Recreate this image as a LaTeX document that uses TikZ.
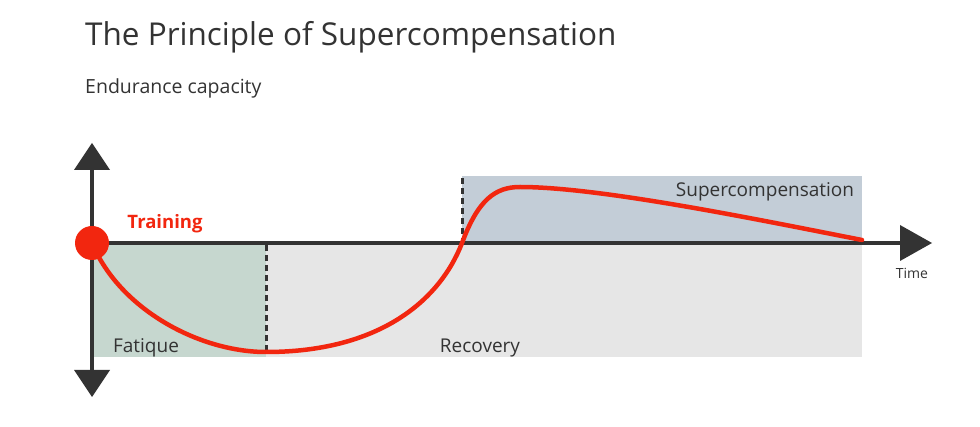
\documentclass[tikz,border=0pt]{standalone}
\usepackage{fontspec}
\setmainfont{Open Sans}
\definecolor{redc}{HTML}{F2260F}
\definecolor{fatc}{HTML}{C6D7CF}
\definecolor{recc}{HTML}{E6E6E6}
\definecolor{supc}{HTML}{C3CDD7}
\definecolor{axc}{HTML}{333333}
\begin{document}
\begin{tikzpicture}[x=1pt,y=-1pt,
  lbl/.style={text=axc,font=\fontsize{19}{22}\selectfont},
  dashln/.style={axc,line width=3pt,dash pattern=on 6pt off 4pt}]
\useasboundingbox (0,0) rectangle (980,427);
\fill[recc] (266,243) rectangle (862,357);
\fill[fatc] (92,243) rectangle (266,357);
\fill[supc] (462,176) rectangle (862,243);
\draw[dashln] (266,245) -- (266,352);
\draw[dashln] (462,178) -- (462,243);
% axes
\draw[axc,line width=3.5pt] (92,165) -- (92,375);
\draw[axc,line width=3.5pt] (92,243) -- (905,243);
\fill[axc] (92,143) -- (110,170) -- (74,170) -- cycle;
\fill[axc] (92,397) -- (110,370) -- (74,370) -- cycle;
\fill[axc] (932,243) -- (900,225) -- (900,261) -- cycle;
% curve
\draw[redc,line width=4.5pt,line cap=round] (92,243) .. controls (120,310) and (200,352) .. (266,352)
  .. controls (380,352) and (440,300) .. (462,243)
  .. controls (478,200) and (495,187) .. (520,187)
  .. controls (600,187) and (760,220) .. (862,240);
\fill[redc] (92,243) circle (17);
% texts
\node[anchor=base west,inner sep=0pt,text=axc,font=\fontsize{31.5}{36}\selectfont] (title) at (85,46) {The Principle of Supercompensation};
\node[anchor=base west,inner sep=0pt,text=axc,font=\fontsize{19.5}{22}\selectfont] (ec) at (85,94) {Endurance capacity};
\node[anchor=base,text=redc,font=\fontsize{18.5}{21}\selectfont\bfseries] (tr) at (165,229) {Training};
\node[anchor=base,lbl] (fa) at (146,353) {Fatique};
\node[anchor=base,lbl] (re) at (480,353) {Recovery};
\node[anchor=base,lbl] (su) at (765,197) {Supercompensation};
\node[anchor=base,text=axc,font=\fontsize{14}{16}\selectfont] (ti) at (912,279) {Time};
\end{tikzpicture}
\end{document}
